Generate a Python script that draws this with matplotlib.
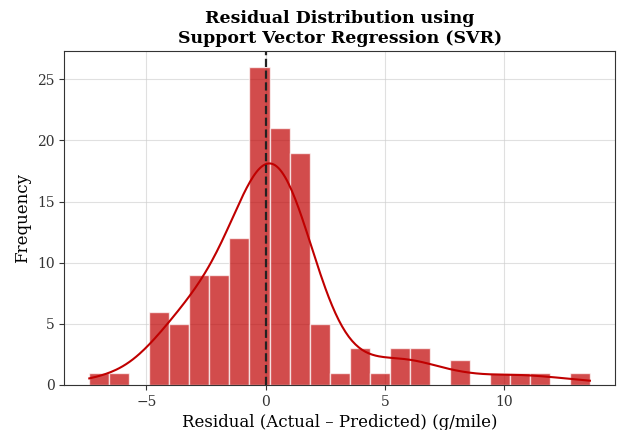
import numpy as np
import matplotlib
matplotlib.use("Agg")
import matplotlib.pyplot as plt

plt.rcParams['font.family'] = ['DejaVu Serif']

# histogram: 25 equal bins
bin_start = -7.39
bin_width = 0.839
counts = [1, 1, 0, 6, 5, 9, 9, 12, 26, 21, 19, 5, 1, 3, 1, 3, 3, 0, 2, 0, 1, 1, 1, 0, 1]

edges = bin_start + bin_width * np.arange(len(counts) + 1)
centers = (edges[:-1] + edges[1:]) / 2
residuals = np.repeat(centers, counts)

# gaussian kde (scott), scaled to counts
n = len(residuals)
bw = residuals.std(ddof=1) * n ** (-1 / 5)
grid = np.linspace(edges[0], edges[-1], 300)
dens = np.exp(-0.5 * ((grid[:, None] - residuals[None, :]) / bw) ** 2).sum(axis=1)
dens = dens / (n * bw * np.sqrt(2 * np.pi))
kde = dens * n * bin_width

fig, ax = plt.subplots(figsize=(6.18, 4.3), dpi=100)
fig.subplots_adjust(left=0.104, right=0.995, top=0.881, bottom=0.105)
ax.set_axisbelow(True)
ax.grid(True, color='#cccccc', alpha=0.6, linewidth=0.8)
ax.bar(centers, counts, width=bin_width, color='#bf0000', alpha=0.7,
       edgecolor='white', linewidth=1)
ax.plot(grid, kde, color='#c00000', linewidth=1.5)
ax.axvline(0, color='#222222', linestyle='--', linewidth=1.6)

ax.set_title('Residual Distribution using\nSupport Vector Regression (SVR)',
             fontsize=12.5, fontweight='bold')
ax.set_xlabel('Residual (Actual – Predicted) (g/mile)', fontsize=12)
ax.set_ylabel('Frequency', fontsize=12)
ax.tick_params(labelsize=10, colors='#333333')
for s in ax.spines.values():
    s.set_color('#333333')

fig.savefig('out.png')
